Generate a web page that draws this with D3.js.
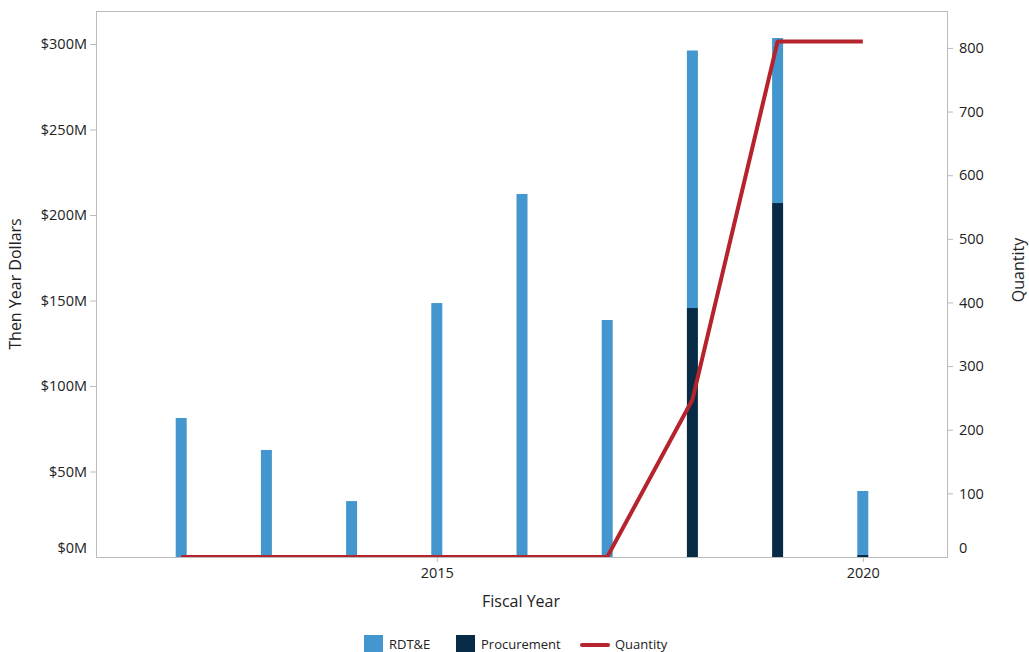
<!DOCTYPE html>
<html><head><meta charset="utf-8">
<script src="https://cdn.jsdelivr.net/npm/d3@7"></script>
<style>
body{margin:0;background:#fff;}
text{font-family:"Open Sans","Noto Sans",sans-serif;fill:#222;}
</style></head>
<body><svg id="c" width="1029" height="652"></svg>
<script>
const years = [2012, 2013, 2014, 2015, 2016, 2017, 2018, 2019, 2020];
const rdte = [81.3, 62.6, 32.7, 148.5, 212.3, 138.6, 150.6, 96.5, 37.4];
const procurement = [0, 0, 0, 0, 0, 0, 145.6, 207, 1.2];
const quantity = [0, 0, 0, 0, 0, 0, 247, 810, 810];
const leftTicks = [0, 50, 100, 150, 200, 250, 300];
const rightTicks = [0, 100, 200, 300, 400, 500, 600, 700, 800];
const xTicks = [2015, 2020];
const legendLabels = ["RDT&E", "Procurement", "Quantity"];

const C_RDTE = "#4397ce", C_PROC = "#072a45", C_LINE = "#b5232d";
const L = 96, R = 948, T = 11, B = 557;
const svg = d3.select("#c");
const x = d3.scaleLinear().domain([2011, 2021]).range([L, R]);
const yL = d3.scaleLinear().domain([0, 319.3]).range([B, T]);
const yR = d3.scaleLinear().domain([0, 858]).range([B, T]);
const bw = 11;

svg.append("defs").append("clipPath").attr("id","clip")
  .append("rect").attr("x",L).attr("y",T).attr("width",R-L).attr("height",B-T);

const data = years.map((y,i)=>({y, p:procurement[i], r:rdte[i], q:quantity[i]}));
const g = svg.append("g").attr("clip-path","url(#clip)");
g.selectAll(".p").data(data).join("rect")
  .attr("x",d=>x(d.y)-bw/2).attr("width",bw)
  .attr("y",d=>yL(d.p)).attr("height",d=>yL(0)-yL(d.p)).attr("fill",C_PROC);
g.selectAll(".r").data(data).join("rect")
  .attr("x",d=>x(d.y)-bw/2).attr("width",bw)
  .attr("y",d=>yL(d.p+d.r)).attr("height",d=>yL(d.p)-yL(d.p+d.r)).attr("fill",C_RDTE);

g.append("path").datum(data)
  .attr("d", d3.line().x(d=>x(d.y)).y(d=>yR(d.q)))
  .attr("fill","none").attr("stroke",C_LINE).attr("stroke-width",4).attr("stroke-linejoin","round");

// frame
svg.append("rect").attr("x",L+0.5).attr("y",T+0.5).attr("width",R-L-1).attr("height",B-T)
  .attr("fill","none").attr("stroke","#bbb").attr("stroke-width",1);

// axes
const la = svg.append("g").attr("transform",`translate(${L},0)`)
  .call(d3.axisLeft(yL).tickValues(leftTicks).tickSize(6).tickPadding(3).tickFormat(d=>"$"+d+"M"));
const ra = svg.append("g").attr("transform",`translate(${R},0)`)
  .call(d3.axisRight(yR).tickValues(rightTicks).tickSize(5).tickPadding(6).tickFormat(d3.format("d")));
const ba = svg.append("g").attr("transform",`translate(0,${B})`)
  .call(d3.axisBottom(x).tickValues(xTicks).tickSize(5).tickPadding(6).tickFormat(d3.format("d")));
[la,ra,ba].forEach(a=>{
  a.select(".domain").remove();
  a.selectAll(".tick line").attr("stroke","#bbb");
  a.selectAll(".tick text").attr("font-size",14.5).attr("fill","#222")
   .attr("font-family",'"Open Sans","Noto Sans",sans-serif');
});
la.selectAll(".tick").filter(d=>d===0).select("line").remove();
ra.selectAll(".tick").filter(d=>d===0).select("line").remove();
la.selectAll(".tick").filter(d=>d===0).select("text").attr("y",-9);
ra.selectAll(".tick").filter(d=>d===0).select("text").attr("y",-9);

// axis titles
svg.append("text").attr("transform","translate(21,284) rotate(-90)").attr("text-anchor","middle")
  .attr("font-size",16).text("Then Year Dollars");
svg.append("text").attr("transform","translate(1024,270) rotate(-90)").attr("text-anchor","middle")
  .attr("font-size",16).text("Quantity");
svg.append("text").attr("x",521).attr("y",607).attr("text-anchor","middle")
  .attr("font-size",16).text("Fiscal Year");

// legend
const lg = svg.append("g");
lg.append("rect").attr("x",364).attr("y",635).attr("width",19).attr("height",17).attr("fill",C_RDTE);
lg.append("text").attr("x",389).attr("y",649).attr("font-size",13).text(legendLabels[0]);
lg.append("rect").attr("x",456).attr("y",635).attr("width",19).attr("height",17).attr("fill",C_PROC);
lg.append("text").attr("x",481).attr("y",649).attr("font-size",13).text(legendLabels[1]);
lg.append("line").attr("x1",582).attr("x2",608).attr("y1",645).attr("y2",645)
  .attr("stroke",C_LINE).attr("stroke-width",4).attr("stroke-linecap","round");
lg.append("text").attr("x",615).attr("y",649).attr("font-size",13).text(legendLabels[2]);
</script></body></html>
